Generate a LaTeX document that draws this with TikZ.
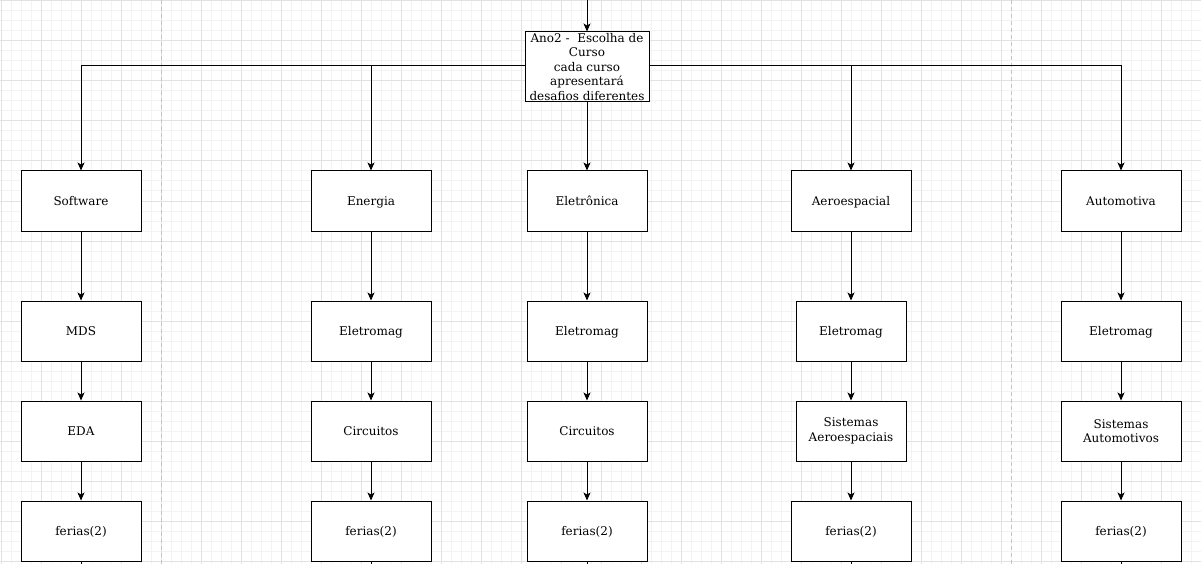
\documentclass[tikz,border=0pt]{standalone}
\usepackage{fontspec}
\setmainfont{DejaVu Serif}
\usetikzlibrary{arrows.meta}
\definecolor{gridminor}{HTML}{F3F3F3}
\definecolor{gridmajor}{HTML}{E2E2E2}
\definecolor{dashgray}{HTML}{C4C4C4}
\tikzset{
  box/.style={draw, line width=1pt, fill=white, minimum width=120pt, minimum height=60pt,
    inner sep=1pt, align=center, font=\fontsize{12}{14.5}\selectfont},
  one/.style={box, text height=12pt, text depth=2.4pt},
  narrow/.style={box, minimum width=110pt},
  conn/.style={line width=1pt, -{Stealth[length=8pt,width=7pt,inset=2pt]}},
  plain/.style={line width=1pt},
  sep/.style={dashgray, line width=1pt, dash pattern=on 4pt off 3pt}
}
\begin{document}
\begin{tikzpicture}[x=1pt,y=-1pt]
\useasboundingbox (0,0) rectangle (1201,564);
\fill[white] (0,0) rectangle (1201,564);
% grid
\foreach \x in {1,11,...,1201} \draw[gridminor, line width=1pt] (\x,0) -- (\x,564);
\foreach \y in {1,11,...,561} \draw[gridminor, line width=1pt] (0,\y) -- (1201,\y);
\foreach \x in {1,41,...,1201} \draw[gridmajor, line width=1pt] (\x,0) -- (\x,564);
\foreach \y in {1,41,...,561} \draw[gridmajor, line width=1pt] (0,\y) -- (1201,\y);
% dashed separators
\draw[sep] (161,0) -- (161,564);
\draw[sep] (1011,0) -- (1011,564);

% top node
\node[box, minimum width=124pt, minimum height=70pt, inner sep=0pt] (top) at (587,67)
  {Ano2 -\ \ Escolha de\\Curso\\cada curso\\apresentará\\desafios diferentes};
\coordinate (tw) at (525,66);
\coordinate (te) at (649,66);

% columns
\node[one] (sw) at (81,201) {Software};
\node[one] (mds) at (81,331) {MDS};
\node[one] (eda) at (81,431) {EDA};
\node[one] (f1) at (81,531) {ferias(2)};

\node[one] (en) at (371,201) {Energia};
\node[one] (em2) at (371,331) {Eletromag};
\node[one] (ci2) at (371,431) {Circuitos};
\node[one] (f2) at (371,531) {ferias(2)};

\node[one] (el) at (587,201) {Eletrônica};
\node[one] (em3) at (587,331) {Eletromag};
\node[one] (ci3) at (587,431) {Circuitos};
\node[one] (f3) at (587,531) {ferias(2)};

\node[one] (ae) at (851,201) {Aeroespacial};
\node[one, minimum width=110pt] (em4) at (851,331) {Eletromag};
\node[narrow] (sa) at (851,431) {Sistemas\\Aeroespaciais};
\node[one] (f4) at (851,531) {ferias(2)};

\node[one] (au) at (1121,201) {Automotiva};
\node[one] (em5) at (1121,331) {Eletromag};
\node[box] (sau) at (1121,431) {Sistemas\\Automotivos};
\node[one] (f5) at (1121,531) {ferias(2)};

% incoming / outgoing free ends
\coordinate (in) at (587,0);
\draw[conn] (in) -- (top.north);
\foreach \f/\x in {f1/81,f2/371,f3/587,f4/851,f5/1121} {
  \coordinate (out\f) at (\x,564);
  \draw[plain] (\f.south) -- (out\f);
}

% top fan-out
\draw[conn] (top.west |- tw) -| (sw.north);
\draw[conn] (top.west |- tw) -| (en.north);
\draw[conn] (top.south) -- (el.north);
\draw[conn] (top.east |- te) -| (ae.north);
\draw[conn] (top.east |- te) -| (au.north);

% vertical chains
\draw[conn] (sw) -- (mds);
\draw[conn] (mds) -- (eda);
\draw[conn] (eda) -- (f1);
\draw[conn] (en) -- (em2);
\draw[conn] (em2) -- (ci2);
\draw[conn] (ci2) -- (f2);
\draw[conn] (el) -- (em3);
\draw[conn] (em3) -- (ci3);
\draw[conn] (ci3) -- (f3);
\draw[conn] (ae) -- (em4);
\draw[conn] (em4) -- (sa);
\draw[conn] (sa) -- (f4);
\draw[conn] (au) -- (em5);
\draw[conn] (em5) -- (sau);
\draw[conn] (sau) -- (f5);
\end{tikzpicture}
\end{document}
